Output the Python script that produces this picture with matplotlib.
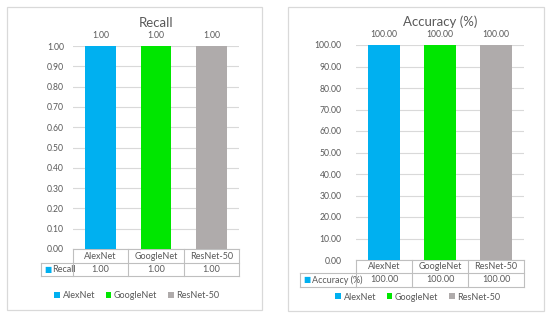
import matplotlib
matplotlib.use("Agg")
import matplotlib.pyplot as plt
from matplotlib.patches import Rectangle, Patch
from matplotlib.lines import Line2D

models = ["AlexNet", "GoogleNet", "ResNet-50"]
recall = [1.00, 1.00, 1.00]
accuracy = [100.00, 100.00, 100.00]
recall_ticks = [0.0, 0.1, 0.2, 0.3, 0.4, 0.5, 0.6, 0.7, 0.8, 0.9, 1.0]
acc_ticks = [0, 10, 20, 30, 40, 50, 60, 70, 80, 90, 100]
colors = ["#00B0F0", "#00E600", "#AFABAB"]

plt.rcParams['font.family'] = ['Lato', 'DejaVu Sans']
TXT = "#595959"
GRID = "#D9D9D9"
TBL = "#BFBFBF"

W, H = 550, 318
fig = plt.figure(figsize=(5.5, 3.18), dpi=100)

def px_axes(x0, y0, x1, y1):
    return fig.add_axes([x0 / W, 1 - y1 / H, (x1 - x0) / W, (y1 - y0) / H])

def border(x0, y0, x1, y1):
    fig.add_artist(Rectangle((x0 / W, 1 - y1 / H), (x1 - x0) / W, (y1 - y0) / H,
                             transform=fig.transFigure, fill=False,
                             edgecolor=GRID, lw=0.9))

def panel(rect, brd, values, ticks, title, series, hb, db, lab_left, legend_xy, pad):
    border(*brd)
    ax = px_axes(*rect)
    xs = list(range(len(models)))
    ax.bar(xs, values, width=0.56, color=colors, zorder=3)
    ax.set_xlim(-0.5, len(models) - 0.5)
    ax.set_ylim(0, ticks[-1])
    ax.set_yticks(ticks)
    ax.set_yticklabels([f"{t:.2f}" for t in ticks], color=TXT, fontsize=6.2)
    ax.tick_params(axis='y', length=0, pad=pad)
    ax.set_xticks([])
    for s in ax.spines.values():
        s.set_visible(False)
    ax.grid(axis='y', color=GRID, lw=0.8, zorder=0)
    ax.set_title(title, color=TXT, fontsize=9.5, pad=14)
    for x, v in zip(xs, values):
        ax.annotate(f"{v:.2f}", (x, v), xytext=(0, 4), textcoords='offset points',
                    ha='center', va='bottom', fontsize=6.2, color=TXT)
    # table
    bt = ax.get_xaxis_transform()
    ta = ax.transAxes
    lw = 0.8
    ax.add_line(Line2D([-0.5, len(models) - 0.5], [0, 0], transform=bt, color=TBL, lw=lw, clip_on=False))
    ax.add_line(Line2D([lab_left, 1], [hb, hb], transform=ta, color=TBL, lw=lw, clip_on=False))
    ax.add_line(Line2D([lab_left, 1], [db, db], transform=ta, color=TBL, lw=lw, clip_on=False))
    ax.add_line(Line2D([lab_left, lab_left], [hb, db], transform=ta, color=TBL, lw=lw, clip_on=False))
    for b in [i - 0.5 for i in range(len(models) + 1)]:
        ax.add_line(Line2D([b, b], [0, db], transform=bt, color=TBL, lw=lw, clip_on=False))
    for x, m, v in zip(xs, models, values):
        ax.text(x, hb / 2, m, transform=bt, ha='center', va='center', fontsize=6.5, color=TXT)
        ax.text(x, (hb + db) / 2, f"{v:.2f}", transform=bt, ha='center', va='center', fontsize=6.5, color=TXT)
    ax.text(lab_left + 0.02, (hb + db) / 2, "■", transform=ta, ha='left', va='center',
            fontsize=5.5, color=colors[0], family='DejaVu Sans')
    ax.text(lab_left + 0.07, (hb + db) / 2, series, transform=ta, ha='left', va='center',
            fontsize=6.5, color=TXT)
    handles = [Patch(facecolor=c, edgecolor='none') for c in colors]
    fig.legend(handles, models, loc='center', bbox_to_anchor=(legend_xy[0] / W, 1 - legend_xy[1] / H),
               ncol=3, frameon=False, fontsize=6.5, labelcolor=TXT, handlelength=0.6,
               handleheight=0.6, handletextpad=0.3, columnspacing=1.2)
    return ax

panel((73, 46, 239, 249), (7, 7, 262, 310), recall, recall_ticks, "Recall", "Recall",
      -0.069, -0.133, -0.193, (137, 296), 6.5)
panel((356, 45, 524, 260), (288, 7, 544, 311), accuracy, acc_ticks, "Accuracy (%)", "Accuracy (%)",
      -0.060, -0.126, -0.333, (418, 297), 10.5)

fig.savefig("out.png", dpi=100)
